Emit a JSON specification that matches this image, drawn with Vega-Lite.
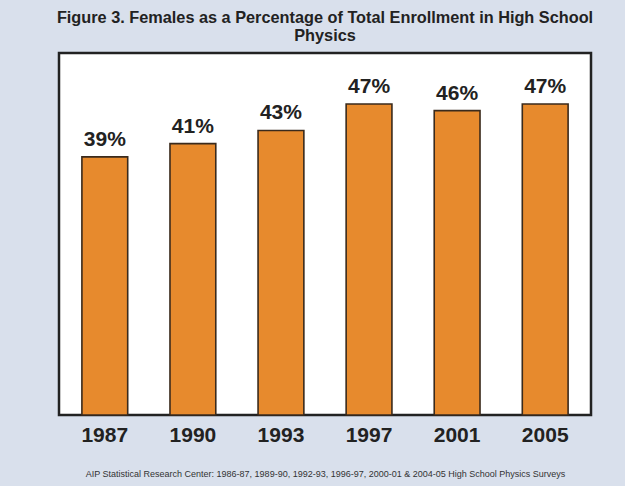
{
  "$schema": "https://vega.github.io/schema/vega-lite/v6.json",
  "width": 532,
  "height": 362,
  "autosize": {"type": "none"},
  "padding": {"left": 59, "top": 53, "right": 34, "bottom": 71},
  "background": "#d9e0ec",
  "config": {
    "font": "Liberation Sans",
    "view": {"fill": "white", "stroke": "#222222", "strokeWidth": 2.5}
  },
  "title": {
    "text": ["Figure 3. Females as a Percentage of Total Enrollment in High School", "Physics"],
    "fontSize": 16.3,
    "fontWeight": "bold",
    "color": "#222222",
    "anchor": "middle",
    "frame": "group",
    "offset": 9,
    "lineHeight": 18
  },
  "data": {
    "values": [
      {"year": "1987", "pct": 39, "label": "39%"},
      {"year": "1990", "pct": 41, "label": "41%"},
      {"year": "1993", "pct": 43, "label": "43%"},
      {"year": "1997", "pct": 47, "label": "47%"},
      {"year": "2001", "pct": 46, "label": "46%"},
      {"year": "2005", "pct": 47, "label": "47%"}
    ]
  },
  "encoding": {
    "x": {
      "field": "year",
      "type": "ordinal",
      "scale": {"paddingInner": 0.48, "paddingOuter": 0.26},
      "axis": {
        "title": "AIP Statistical Research Center: 1986-87, 1989-90, 1992-93, 1996-97, 2000-01 & 2004-05 High School Physics Surveys",
        "titleFontSize": 9,
        "titleFontWeight": "normal",
        "titleColor": "#333333",
        "titlePadding": 24,
        "labelAngle": 0,
        "labelFontSize": 21,
        "labelFontWeight": "bold",
        "labelColor": "#222222",
        "labelPadding": 9,
        "ticks": false,
        "domain": false
      }
    },
    "y": {
      "field": "pct",
      "type": "quantitative",
      "scale": {"domain": [0, 54.7]},
      "axis": null
    }
  },
  "layer": [
    {
      "mark": {"type": "bar", "fill": "#e78a2d", "stroke": "#3a2a1c", "strokeWidth": 1.6}
    },
    {
      "mark": {"type": "text", "baseline": "bottom", "dy": -7, "fontSize": 21, "fontWeight": "bold", "color": "#222222"},
      "encoding": {
        "text": {"field": "label", "type": "nominal"}
      }
    }
  ]
}
